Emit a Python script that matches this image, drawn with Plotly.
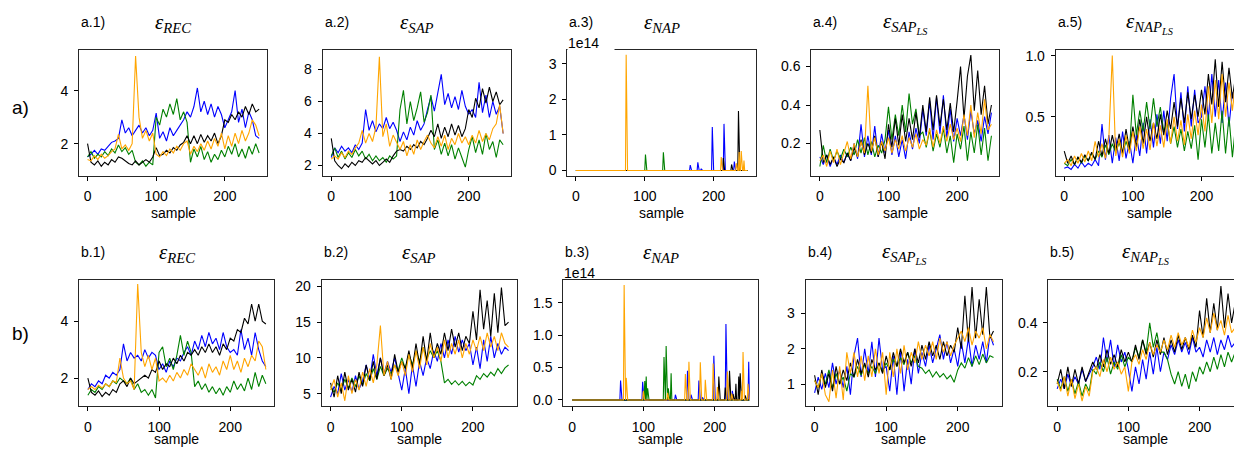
import plotly.graph_objects as go

# digitised sample positions for the dense series
SAMPLES = list(range(0, 251, 5))

A1_BLUE = [1.5, 1.6, 1.75, 1.6, 1.8, 1.75, 1.9, 2.05, 2.1, 2.2, 2.9, 2.4, 2.6, 2.3, 2.5, 2.7, 2.4, 2.6, 2.3, 2.5,
           3.15, 2.2, 2.45, 2.1, 2.6, 2.3, 2.5, 2.7, 2.9, 3.2, 3.0, 3.4, 4.1, 3.2, 3.6, 3.1, 3.5, 3.0, 3.4, 3.1,
           2.6, 2.9, 3.2, 4.0, 2.8, 3.3, 2.6, 3.2, 2.9, 2.3, 2.2]
A1_GREEN = [1.5, 1.7, 1.45, 1.6, 1.5, 1.7, 1.55, 1.8, 1.65, 1.95, 1.7, 1.85, 1.6, 1.75, 1.3, 1.2, 1.35, 1.15, 1.3, 1.2,
            3.0, 2.7, 3.3, 3.0, 3.5, 3.1, 3.7, 2.9, 3.2, 2.8, 1.3, 1.8, 1.5, 1.9, 1.4, 1.7, 1.3, 1.6, 1.4, 1.75,
            1.5, 1.9, 1.6, 2.0, 1.5, 1.8, 1.45, 1.9, 1.6, 2.0, 1.65]
A1_BLACK = [2.0, 1.3, 1.2, 1.35, 1.15, 1.3, 1.2, 1.4, 1.3, 1.5, 1.45, 1.35, 1.25, 1.2, 1.35, 1.2, 1.3, 1.4, 1.3, 1.5,
            1.85, 1.55, 1.6, 1.75, 1.65, 1.85, 1.75, 1.95, 2.05, 2.3, 2.0, 2.3, 2.0, 2.35, 2.05, 2.3, 2.1, 2.4, 2.0, 2.3,
            2.9, 2.8, 3.1, 2.9, 3.2, 3.0, 3.4, 3.1, 3.5, 3.2, 3.3]
A1_ORANGE = [1.4, 1.35, 1.55, 1.4, 1.6, 1.45, 1.55, 1.7, 1.8, 2.35, 1.8, 1.95, 1.75, 2.0, 5.3, 3.0, 2.2, 2.5, 2.1, 2.4,
             1.6, 1.5, 1.7, 1.55, 1.8, 1.65, 1.9, 1.75, 2.0, 2.1, 1.6, 1.9, 1.7, 2.0, 1.75, 2.1, 1.8, 2.2, 1.9, 2.4,
             1.8, 2.3, 1.9, 2.4, 2.0, 2.5, 2.1, 2.4, 2.9, 2.7, 2.3]

A2_BLUE = [2.5, 3.1, 2.8, 3.2, 2.9, 3.1, 2.8, 3.3, 3.0, 3.4, 5.5, 4.2, 4.8, 4.1, 4.6, 4.3, 5.0, 4.3, 4.7, 4.2,
           3.5, 4.1, 3.6, 4.4, 3.9, 4.8, 4.2, 4.6, 5.5, 6.3, 5.4, 6.6, 7.7, 5.8, 6.5, 5.6, 6.3, 5.5, 6.7, 5.7,
           5.2, 5.5, 5.0, 7.2, 5.3, 6.4, 5.0, 6.0, 5.2, 5.7, 4.0]
A2_GREEN = [2.6, 3.1, 2.5, 2.9, 2.4, 2.8, 2.5, 3.0, 2.6, 2.9, 2.4, 2.7, 2.3, 2.6, 2.3, 2.5, 2.2, 2.6, 2.4, 2.6,
            5.5, 6.7, 4.6, 6.0, 4.8, 5.6, 6.6, 4.7, 5.3, 6.4, 3.0, 3.6, 2.7, 3.4, 2.6, 3.3, 2.4, 3.1, 2.5, 1.9,
            3.0, 3.8, 2.8, 3.6, 2.7, 4.0, 3.0, 3.5, 2.5, 3.6, 3.3]
A2_BLACK = [3.7, 2.3, 2.0, 1.8, 2.1, 1.9, 2.2, 2.0, 2.3, 2.2, 2.5, 2.3, 2.1, 2.3, 2.0, 2.2, 2.4, 2.2, 2.6, 2.9,
            3.0, 2.9, 3.2, 3.0, 3.3, 3.1, 3.5, 3.3, 3.7, 4.2, 3.8, 4.6, 3.7, 4.4, 3.8, 4.6, 3.9, 4.5, 3.8, 4.3,
            5.5, 5.0, 6.2, 5.6, 6.8, 5.9, 6.9, 6.0, 6.6, 5.8, 6.1]
A2_ORANGE = [2.4, 2.6, 2.4, 2.8, 2.5, 2.9, 2.7, 3.1, 3.4, 4.2, 3.4, 4.0, 3.5, 4.4, 8.8, 3.8, 4.6, 3.2, 3.9, 3.4,
             3.0, 3.5, 2.6, 3.3, 2.7, 3.6, 3.0, 3.5, 3.9, 3.4, 3.1, 3.8, 3.2, 3.9, 3.0, 3.7, 3.3, 4.0, 3.4, 3.8,
             3.3, 3.9, 3.4, 4.2, 3.5, 4.0, 3.6, 4.3, 4.6, 5.8, 4.0]

# eps_NAP: zero except isolated spikes, (sample, value in units of 1e14)
A3_BLUE = [(166, 0.15), (177, 0.23), (182, 0.05), (198, 1.22), (215, 1.31), (230, 0.25)]
A3_GREEN = [(101, 0.45), (127, 0.51)]
A3_BLACK = [(214, 0.35), (226, 0.17), (236, 1.67)]
A3_ORANGE = [(73, 3.25), (211, 0.38), (233, 0.2), (237, 0.52), (240, 0.55), (244, 0.28)]

A4_BLUE = [0.13, 0.09, 0.14, 0.08, 0.13, 0.09, 0.14, 0.10, 0.15, 0.11, 0.20, 0.12, 0.30, 0.13, 0.24, 0.14, 0.29, 0.13,
           0.25, 0.15, 0.27, 0.14, 0.24, 0.13, 0.22, 0.12, 0.26, 0.17, 0.28, 0.20, 0.38, 0.24, 0.42, 0.22, 0.44, 0.25,
           0.45, 0.23, 0.38, 0.21, 0.33, 0.24, 0.35, 0.22, 0.37, 0.25, 0.32, 0.21, 0.34, 0.25, 0.36]
A4_GREEN = [0.08, 0.19, 0.10, 0.17, 0.11, 0.16, 0.12, 0.17, 0.13, 0.18, 0.14, 0.22, 0.15, 0.23, 0.14, 0.21, 0.13, 0.19,
            0.15, 0.22, 0.39, 0.22, 0.35, 0.24, 0.40, 0.26, 0.46, 0.30, 0.38, 0.24, 0.26, 0.18, 0.27, 0.16, 0.25, 0.18,
            0.28, 0.15, 0.24, 0.10, 0.25, 0.17, 0.29, 0.11, 0.26, 0.15, 0.30, 0.14, 0.28, 0.11, 0.24]
A4_BLACK = [0.27, 0.10, 0.14, 0.09, 0.13, 0.08, 0.12, 0.10, 0.15, 0.11, 0.18, 0.13, 0.22, 0.14, 0.20, 0.15, 0.24, 0.13,
            0.21, 0.12, 0.30, 0.18, 0.33, 0.19, 0.35, 0.21, 0.33, 0.22, 0.36, 0.23, 0.40, 0.26, 0.44, 0.27, 0.45, 0.29,
            0.43, 0.27, 0.41, 0.26, 0.42, 0.60, 0.33, 0.55, 0.66, 0.37, 0.58, 0.35, 0.50, 0.30, 0.40]
A4_ORANGE = [0.11, 0.14, 0.08, 0.16, 0.10, 0.17, 0.09, 0.15, 0.21, 0.12, 0.20, 0.13, 0.21, 0.15, 0.50, 0.16, 0.23, 0.14,
             0.21, 0.16, 0.23, 0.15, 0.22, 0.17, 0.24, 0.16, 0.23, 0.18, 0.25, 0.17, 0.22, 0.19, 0.28, 0.18, 0.27, 0.20,
             0.29, 0.21, 0.30, 0.22, 0.28, 0.21, 0.35, 0.24, 0.40, 0.23, 0.36, 0.25, 0.43, 0.27, 0.30]

A5_BLUE = [0.08, 0.09, 0.07, 0.11, 0.08, 0.13, 0.09, 0.12, 0.10, 0.15, 0.10, 0.44, 0.15, 0.35, 0.12, 0.33, 0.14, 0.38,
           0.16, 0.30, 0.12, 0.35, 0.18, 0.45, 0.20, 0.48, 0.25, 0.52, 0.28, 0.55, 0.30, 0.65, 0.85, 0.40, 0.70, 0.38,
           0.75, 0.42, 0.72, 0.45, 0.50, 0.75, 0.48, 0.85, 0.50, 0.80, 0.45, 0.78, 0.42, 0.70, 0.55]
A5_GREEN = [0.12, 0.10, 0.15, 0.11, 0.17, 0.12, 0.18, 0.14, 0.20, 0.15, 0.22, 0.17, 0.27, 0.19, 0.28, 0.21, 0.29, 0.20,
            0.30, 0.22, 0.68, 0.35, 0.55, 0.38, 0.62, 0.40, 0.65, 0.42, 0.58, 0.38, 0.45, 0.28, 0.42, 0.25, 0.40, 0.22,
            0.38, 0.24, 0.43, 0.15, 0.48, 0.25, 0.52, 0.20, 0.45, 0.22, 0.55, 0.20, 0.50, 0.17, 0.45]
A5_BLACK = [0.22, 0.12, 0.18, 0.11, 0.17, 0.13, 0.19, 0.14, 0.21, 0.15, 0.30, 0.18, 0.32, 0.20, 0.35, 0.22, 0.36, 0.20,
            0.40, 0.23, 0.42, 0.25, 0.48, 0.28, 0.50, 0.30, 0.45, 0.32, 0.52, 0.35, 0.55, 0.40, 0.62, 0.42, 0.65, 0.45,
            0.70, 0.48, 0.68, 0.50, 0.72, 0.52, 0.85, 0.60, 0.97, 0.58, 0.95, 0.62, 0.90, 0.65, 0.85]
A5_ORANGE = [0.12, 0.15, 0.10, 0.18, 0.12, 0.20, 0.13, 0.22, 0.14, 0.30, 0.17, 0.28, 0.16, 0.33, 1.00, 0.18, 0.32, 0.17,
             0.35, 0.20, 0.38, 0.22, 0.42, 0.24, 0.40, 0.23, 0.45, 0.26, 0.43, 0.25, 0.48, 0.28, 0.50, 0.30, 0.47, 0.27,
             0.52, 0.32, 0.55, 0.35, 0.60, 0.38, 0.75, 0.45, 0.80, 0.48, 0.85, 0.50, 0.78, 0.55, 0.82]

B1_BLUE = [1.6, 1.8, 1.7, 1.9, 1.8, 2.1, 2.0, 2.2, 2.1, 2.3, 3.2, 2.6, 2.9, 2.7, 2.8, 2.6, 3.0, 2.7, 2.9, 2.8,
           2.3, 2.5, 2.2, 2.6, 2.4, 2.7, 2.6, 2.9, 3.1, 2.8, 3.3, 3.0, 3.5, 3.1, 3.6, 3.2, 3.4, 3.0, 3.6, 3.1,
           2.9, 3.0, 2.8, 3.7, 3.0, 3.4, 2.8, 3.6, 3.0, 2.6, 2.4]
B1_GREEN = [1.4, 1.6, 1.5, 1.7, 1.6, 1.8, 1.7, 1.9, 1.8, 2.0, 1.9, 1.8, 2.0, 1.6, 1.8, 1.5, 1.6, 1.4, 1.6, 1.3,
            2.9, 3.1, 2.4, 2.7, 2.3, 2.8, 3.5, 2.8, 3.3, 2.9, 1.7, 1.9, 1.6, 1.8, 1.5, 1.7, 1.45, 1.65, 1.4, 1.7,
            1.5, 1.9, 1.6, 1.8, 1.55, 2.0, 1.6, 2.2, 1.7, 2.1, 1.8]
B1_BLACK = [2.0, 1.5, 1.4, 1.55, 1.35, 1.5, 1.4, 1.6, 1.5, 1.8, 1.9, 1.7, 2.0, 1.8, 1.9, 2.0, 2.1, 2.0, 2.3, 2.2,
            2.6, 2.3, 2.5, 2.4, 2.7, 2.5, 2.8, 2.6, 2.9, 2.8, 3.0, 2.8, 3.1, 2.9, 3.2, 2.9, 3.1, 2.8, 3.2, 3.0,
            3.4, 3.3, 3.7, 3.6, 4.1, 3.9, 4.6, 4.0, 4.6, 4.0, 3.9]
B1_ORANGE = [1.6, 1.7, 1.6, 1.75, 1.65, 1.8, 1.7, 1.9, 1.85, 2.7, 2.0, 1.8, 1.9, 1.6, 5.3, 2.9, 2.4, 2.8, 2.3, 2.7,
             1.9, 2.0, 1.85, 2.1, 1.9, 2.2, 2.0, 2.3, 2.1, 2.5, 2.3, 2.1, 2.4, 2.0, 2.5, 2.2, 2.4, 2.1, 2.6, 2.3,
             2.8, 2.3, 2.6, 2.2, 2.7, 2.4, 2.8, 2.6, 3.3, 3.1, 2.3]

B2_BLUE = [4.5, 6.0, 5.0, 7.8, 5.5, 7.0, 5.2, 7.5, 5.6, 6.8, 9.0, 7.0, 10.5, 7.5, 10.0, 7.8, 9.5, 8.0, 10.0, 7.5,
           5.5, 8.5, 5.0, 9.0, 6.0, 9.5, 7.5, 10.0, 8.5, 11.0, 9.5, 12.0, 10.0, 12.5, 10.5, 13.0, 10.8, 12.5, 11.0, 12.0,
           9.0, 11.5, 8.5, 12.5, 9.5, 13.0, 10.0, 12.0, 10.5, 11.5, 11.0]
B2_GREEN = [6.0, 5.2, 6.5, 5.5, 7.0, 5.8, 7.2, 6.0, 7.5, 6.2, 7.8, 6.8, 8.5, 7.0, 8.8, 7.5, 8.5, 7.8, 9.0, 8.2,
            10.0, 8.5, 10.5, 9.0, 11.0, 9.5, 11.5, 9.8, 11.0, 10.0, 11.0, 9.5, 6.5, 7.0, 6.3, 6.8, 6.2, 6.7, 6.1, 6.6,
            6.2, 7.5, 7.0, 7.8, 7.3, 8.0, 7.5, 8.5, 7.8, 8.6, 9.0]
B2_BLACK = [6.5, 4.5, 7.5, 5.0, 8.0, 5.5, 7.0, 5.2, 8.0, 6.0, 9.0, 6.8, 9.5, 7.0, 10.0, 7.5, 9.0, 7.0, 10.5, 8.0,
            9.5, 8.5, 11.0, 8.5, 12.0, 9.0, 13.0, 9.5, 13.5, 10.0, 12.0, 10.5, 13.5, 11.0, 14.0, 11.5, 13.5, 11.0, 13.0, 12.0,
            16.5, 12.5, 19.5, 14.0, 18.0, 13.0, 19.0, 13.5, 19.8, 14.5, 15.0]
B2_ORANGE = [5.5, 7.0, 4.5, 6.5, 4.0, 7.5, 5.0, 7.0, 5.5, 8.0, 6.0, 8.5, 6.5, 9.0, 14.5, 7.5, 9.5, 7.0, 9.0, 7.5,
             9.5, 7.5, 10.5, 8.0, 11.0, 8.5, 11.5, 9.0, 12.0, 10.0, 11.5, 9.5, 12.5, 10.0, 12.0, 10.5, 12.5, 10.0, 12.0, 10.5,
             12.5, 11.0, 13.0, 11.0, 13.5, 11.5, 13.0, 11.0, 13.5, 12.0, 11.5]

B3_BLUE = [(68, 0.30), (99, 0.28), (145, 0.08), (162, 0.45), (167, 0.08), (178, 0.30), (183, 0.04), (199, 0.68),
           (216, 1.17), (225, 0.14), (248, 0.59)]
B3_GREEN = [(102, 0.29), (104, 0.36), (106, 0.18), (129, 0.66), (132, 0.83), (135, 0.18), (139, 0.41)]
B3_BLACK = [(206, 0.36), (215, 0.19), (221, 0.45), (226, 0.09), (230, 0.25), (234, 0.36), (236, 0.41), (243, 0.07)]
B3_ORANGE = [(73, 1.77), (76, 0.34), (100, 0.14), (134, 0.11), (159, 0.40), (164, 0.59), (180, 0.58), (187, 0.31),
             (198, 0.56), (204, 0.20), (218, 0.44), (224, 0.10), (238, 0.14), (240, 0.74), (247, 0.25)]

B4_BLUE = [0.75, 1.2, 0.85, 1.3, 0.9, 1.6, 1.0, 1.4, 0.9, 1.5, 0.7, 1.8, 2.3, 1.2, 2.0, 1.3, 2.2, 1.2, 2.3, 1.4,
           1.5, 0.8, 1.8, 0.7, 1.9, 0.8, 1.7, 1.0, 2.0, 1.3, 1.9, 1.5, 2.1, 1.6, 2.0, 2.4, 1.7, 2.2, 1.6, 2.0,
           1.5, 2.2, 1.6, 2.3, 1.5, 2.1, 1.7, 2.2, 1.6, 2.4, 2.1]
B4_GREEN = [1.1, 0.9, 1.3, 1.0, 1.4, 0.9, 1.3, 1.0, 1.2, 0.8, 1.3, 1.2, 1.5, 1.25, 1.55, 1.3, 1.5, 1.3, 1.6, 1.35,
            1.6, 1.4, 1.7, 1.5, 1.75, 1.55, 1.9, 1.6, 1.8, 1.5, 1.45, 1.3, 1.4, 1.2, 1.35, 1.2, 1.3, 1.15, 1.25, 1.05,
            1.4, 1.6, 1.45, 1.75, 1.5, 1.8, 1.55, 1.85, 1.6, 1.8, 1.75]
B4_BLACK = [1.25, 0.7, 1.4, 0.9, 1.3, 0.8, 1.5, 1.0, 1.4, 1.1, 1.6, 1.2, 1.7, 1.3, 1.6, 1.2, 1.7, 1.4, 1.6, 1.3,
            1.8, 1.4, 1.9, 1.5, 2.0, 1.6, 1.9, 1.5, 2.0, 1.6, 2.1, 1.7, 2.2, 1.8, 2.1, 1.7, 2.2, 1.8, 2.1, 1.9,
            2.6, 2.0, 3.5, 2.2, 3.75, 2.3, 3.4, 2.4, 3.75, 2.3, 2.5]
B4_ORANGE = [1.1, 0.9, 1.3, 0.7, 0.5, 1.4, 0.6, 1.5, 0.55, 1.9, 1.3, 1.9, 1.2, 1.8, 1.1, 1.8, 1.2, 2.0, 1.3, 1.9,
             0.7, 1.9, 1.2, 2.0, 1.3, 2.1, 1.4, 1.9, 1.6, 2.2, 1.7, 2.1, 1.8, 2.2, 1.7, 2.3, 1.9, 2.2, 1.8, 2.1,
             2.3, 2.5, 2.2, 2.6, 2.1, 2.5, 2.3, 2.6, 2.0, 2.4, 2.2]

B5_BLUE = [0.13, 0.17, 0.13, 0.19, 0.14, 0.18, 0.15, 0.21, 0.16, 0.19, 0.22, 0.26, 0.21, 0.34, 0.24, 0.33, 0.22, 0.31,
           0.24, 0.28, 0.21, 0.12, 0.22, 0.15, 0.25, 0.17, 0.28, 0.19, 0.30, 0.20, 0.28, 0.25, 0.31, 0.27, 0.33, 0.28,
           0.32, 0.27, 0.34, 0.28, 0.30, 0.26, 0.33, 0.28, 0.34, 0.27, 0.33, 0.29, 0.35, 0.30, 0.32]
B5_GREEN = [0.17, 0.13, 0.18, 0.12, 0.17, 0.11, 0.16, 0.10, 0.15, 0.12, 0.21, 0.19, 0.24, 0.20, 0.26, 0.19, 0.24, 0.21,
            0.27, 0.22, 0.26, 0.24, 0.30, 0.26, 0.33, 0.28, 0.40, 0.30, 0.36, 0.28, 0.28, 0.25, 0.19, 0.15, 0.20, 0.14,
            0.19, 0.13, 0.20, 0.16, 0.22, 0.19, 0.24, 0.20, 0.26, 0.21, 0.27, 0.22, 0.28, 0.24, 0.28]
B5_BLACK = [0.15, 0.21, 0.13, 0.22, 0.14, 0.21, 0.15, 0.22, 0.16, 0.20, 0.24, 0.21, 0.27, 0.22, 0.29, 0.23, 0.27, 0.22,
            0.29, 0.24, 0.28, 0.24, 0.31, 0.25, 0.33, 0.27, 0.32, 0.26, 0.33, 0.27, 0.34, 0.27, 0.33, 0.28, 0.35, 0.29,
            0.34, 0.29, 0.35, 0.30, 0.45, 0.34, 0.50, 0.36, 0.48, 0.37, 0.55, 0.38, 0.52, 0.40, 0.48]
B5_ORANGE = [0.16, 0.12, 0.18, 0.10, 0.17, 0.09, 0.15, 0.08, 0.14, 0.10, 0.20, 0.22, 0.18, 0.25, 0.20, 0.26, 0.21, 0.24,
             0.19, 0.22, 0.12, 0.24, 0.27, 0.23, 0.29, 0.25, 0.32, 0.27, 0.31, 0.28, 0.33, 0.29, 0.35, 0.30, 0.36, 0.31,
             0.34, 0.30, 0.37, 0.32, 0.38, 0.34, 0.42, 0.36, 0.44, 0.37, 0.41, 0.35, 0.43, 0.36, 0.38]

N_SAMPLES = 250
COLORS = ["blue", "green", "black", "orange"]

W, H = 1234, 449

# panel: label, title, sub-subscript, series (blue, green, black, orange), x px box, y px box, y range, ticks, format
panels = [
    ("a.1)", "REC", None, [A1_BLUE, A1_GREEN, A1_BLACK, A1_ORANGE], (79, 267), (49.5, 175.5), [0.80, 5.55], [2, 4], None),
    ("a.2)", "SAP", None, [A2_BLUE, A2_GREEN, A2_BLACK, A2_ORANGE], (322.7, 511), (49.5, 175.5), [1.375, 9.25], [2, 4, 6, 8], None),
    ("a.3)", "NAP", None, [A3_BLUE, A3_GREEN, A3_BLACK, A3_ORANGE], (567.3, 756), (49.5, 175.5), [-0.14, 3.40], [0, 1, 2, 3], None),
    ("a.4)", "SAP", "LS", [A4_BLUE, A4_GREEN, A4_BLACK, A4_ORANGE], (811.3, 999.3), (49.5, 175.5), [0.033, 0.689], [0.2, 0.4, 0.6], ".1f"),
    ("a.5)", "NAP", "LS", [A5_BLUE, A5_GREEN, A5_BLACK, A5_ORANGE], (1055.7, 1243.7), (49.5, 175.5), [0.02, 1.05], [0.5, 1.0], ".1f"),
    ("b.1)", "REC", None, [B1_BLUE, B1_GREEN, B1_BLACK, B1_ORANGE], (79, 274), (279.5, 406), [1.02, 5.46], [2, 4], None),
    ("b.2)", "SAP", None, [B2_BLUE, B2_GREEN, B2_BLACK, B2_ORANGE], (321.7, 516.7), (279.5, 406), [3.27, 20.94], [5, 10, 15, 20], None),
    ("b.3)", "NAP", None, [B3_BLUE, B3_GREEN, B3_BLACK, B3_ORANGE], (563.3, 758.3), (279.5, 406), [-0.093, 1.856], [0.0, 0.5, 1.0, 1.5], ".1f"),
    ("b.4)", "SAP", "LS", [B4_BLUE, B4_GREEN, B4_BLACK, B4_ORANGE], (805.7, 1001.7), (279.5, 406), [0.38, 3.96], [1, 2, 3], None),
    ("b.5)", "NAP", "LS", [B5_BLUE, B5_GREEN, B5_BLACK, B5_ORANGE], (1048.3, 1243.3), (279.5, 406), [0.06, 0.577], [0.2, 0.4], ".1f"),
]

XRANGE = [-12.45, 261.45]
SANS = "Liberation Sans, Arial, sans-serif"
TICKFONT = dict(family=SANS, size=14, color="black")

fig = go.Figure()
layout = dict(width=W, height=H, margin=dict(l=0, r=0, t=0, b=0, autoexpand=False),
              paper_bgcolor="white", plot_bgcolor="white", showlegend=False, template="none")
annotations = []

for i, (label, sub, subsub, series, (x0, x1), (ytop, ybot), yrange, yticks, yfmt) in enumerate(panels):
    n = i + 1
    sx = "" if n == 1 else str(n)
    full_w = x1 - x0
    cx = (x0 + full_w / 2) / W
    clipped = x1 > W
    # the right-most column runs past the page edge: keep the scale, cut the domain
    xr = list(XRANGE)
    if clipped:
        xr[1] = XRANGE[0] + (W - x0) / full_w * (XRANGE[1] - XRANGE[0])
        x1 = W
    layout["xaxis" + sx] = dict(
        domain=[x0 / W, x1 / W], anchor="y" + sx, range=xr, automargin=False,
        tickvals=[0, 100, 200], ticks="outside", ticklen=4, tickwidth=1, tickcolor="black",
        showline=True, linecolor="#262626", linewidth=1, mirror=True,
        showgrid=False, zeroline=False, tickfont=TICKFONT, ticklabelstandoff=4,
    )
    layout["yaxis" + sx] = dict(
        domain=[1 - ybot / H, 1 - ytop / H], anchor="x" + sx, range=yrange, automargin=False,
        tickvals=yticks, tickformat=yfmt, ticks="outside", ticklen=4, tickwidth=1, tickcolor="black",
        showline=True, linecolor="#262626", linewidth=1, mirror=not clipped,
        showgrid=False, zeroline=False, tickfont=TICKFONT, ticklabelstandoff=3,
    )

    for vals, col in zip(series, COLORS):
        if isinstance(vals[0], tuple):
            xs = list(range(N_SAMPLES))
            ys = [0.0] * N_SAMPLES
            for s, v in vals:
                ys[s] = v
        else:
            xs, ys = SAMPLES, vals
        fig.add_trace(go.Scatter(x=xs, y=ys, mode="lines", line=dict(color=col, width=1.1),
                                 xaxis="x" + sx, yaxis="y" + sx, hoverinfo="skip"))

    top_row = ytop < 200
    label_y = 22 if top_row else 251.5
    sample_y = 212.5 if top_row else 439

    annotations.append(dict(x=x0 / W, y=1 - label_y / H, xref="paper", yref="paper",
                            text=label, showarrow=False, xanchor="left", yanchor="middle",
                            font=dict(family=SANS, size=14, color="black")))
    sub_txt = sub if subsub is None else sub + "<sub>" + subsub + "</sub>"
    annotations.append(dict(x=cx, y=1 - (label_y + 1) / H, xref="paper", yref="paper",
                            text="<i>ε<sub>" + sub_txt + "</sub></i>", showarrow=False,
                            xanchor="center", yanchor="middle",
                            font=dict(family="Liberation Serif, Times New Roman, serif", size=21, color="black")))
    annotations.append(dict(x=cx, y=1 - sample_y / H, xref="paper", yref="paper",
                            text="sample", showarrow=False, xanchor="center", yanchor="middle",
                            font=dict(family=SANS, size=14, color="black")))
    if sub == "NAP" and subsub is None:
        # offset-text label; in the top row its white box hides part of the frame, as in the source
        extra = dict(bgcolor="white", width=46, height=17, align="left") if top_row else {}
        annotations.append(dict(x=x0 / W, y=1 - (ytop - 7) / H, xref="paper", yref="paper",
                                text="1e14", showarrow=False, xanchor="left", yanchor="middle",
                                font=TICKFONT, borderpad=0, **extra))

for txt, ty in (("a)", 108), ("b)", 333)):
    annotations.append(dict(x=20.5 / W, y=1 - ty / H, xref="paper", yref="paper", text=txt, showarrow=False,
                            xanchor="center", yanchor="middle",
                            font=dict(family=SANS, size=19, color="black")))

layout["annotations"] = annotations
fig.update_layout(**layout)
# drop the browser's default page margin so the figure sits at the window's corner
fig.write_html("out.html", config={"displayModeBar": False},
               post_script="document.body.style.margin='0';")
